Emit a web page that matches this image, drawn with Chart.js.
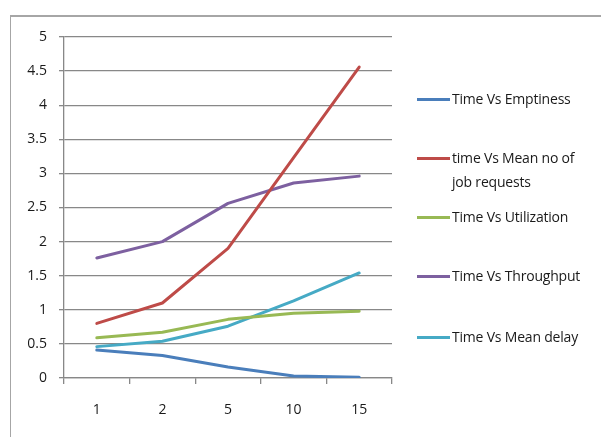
<!DOCTYPE html>
<html>
<head>
<meta charset="utf-8">
<script src="https://cdn.jsdelivr.net/npm/chart.js@4/dist/chart.umd.min.js"></script>
<style>
  html, body { margin: 0; padding: 0; background: #fff; }
  #wrap { position: relative; width: 601px; height: 437px; overflow: hidden; }
  #frame { position: absolute; left: 10px; top: 15px; width: 640px; height: 480px;
           border-left: 1px solid #a6a6a6; border-top: 2px solid #a6a6a6; }
  #chart { position: absolute; left: 0; top: 0; }
  .lg { position: absolute; left: 417px; font-family: "Open Sans", sans-serif;
        font-size: 14px; color: #1a1a1a; line-height: 24px; white-space: pre-line; letter-spacing: -0.2px; }
  .lg i { position: absolute; left: 0; top: 11px; width: 33px; height: 3px; }
  .lg span { display: block; margin-left: 35px; }
</style>
</head>
<body>
<div id="wrap">
  <div id="frame"></div>
  <canvas id="chart" width="601" height="437"></canvas>
  <div id="legend"></div>
</div>
<script>
// Time points on the x axis
const categories = ['1', '2', '5', '10', '15'];

// Measured series
const emptiness   = [0.41, 0.33, 0.16, 0.03, 0.01];
const meanJobs    = [0.80, 1.10, 1.90, 3.23, 4.56];
const utilization = [0.59, 0.67, 0.86, 0.95, 0.98];
const throughput  = [1.76, 2.00, 2.56, 2.86, 2.96];
const meanDelay   = [0.46, 0.54, 0.76, 1.13, 1.54];

const seriesNames = [
  'Time Vs Emptiness',
  'time Vs Mean no of\njob requests',
  'Time Vs Utilization',
  'Time Vs Throughput',
  'Time Vs Mean delay'
];
const seriesData = [emptiness, meanJobs, utilization, throughput, meanDelay];
const seriesColors = ['#4a7ebb', '#be4b48', '#98b954', '#7d60a0', '#46aac5'];

// Value axis range
const yMin = 0, yMax = 5, yStep = 0.5;

const tickFont = { family: '"Open Sans", sans-serif', size: 14 };

new Chart(document.getElementById('chart'), {
  type: 'line',
  data: {
    labels: categories,
    datasets: seriesData.map((d, i) => ({
      label: seriesNames[i],
      data: d,
      borderColor: seriesColors[i],
      backgroundColor: seriesColors[i],
      borderWidth: 3,
      pointRadius: 0,
      tension: 0,
      borderCapStyle: 'round',
      borderJoinStyle: 'round'
    }))
  },
  options: {
    responsive: false,
    animation: false,
    layout: { padding: { left: 0, right: 209, top: 37, bottom: 0 } },
    plugins: { legend: { display: false }, tooltip: { enabled: false } },
    scales: {
      x: {
        offset: true,
        grid: { offset: true, drawOnChartArea: false, drawTicks: true, tickLength: 6, color: '#888888', lineWidth: 1.3 },
        border: { color: '#888888', width: 1.3 },
        ticks: { color: '#1a1a1a', font: tickFont, padding: 18, maxRotation: 0 },
        afterFit: s => { s.height = 59; }
      },
      y: {
        min: yMin, max: yMax,
        grid: { color: '#888888', lineWidth: 1.3, tickLength: 5 },
        border: { color: '#888888', width: 1.3 },
        ticks: { stepSize: yStep, color: '#1a1a1a', font: tickFont, padding: 12,
                 callback: v => String(v) },
        afterFit: s => { s.width = 64; }
      }
    }
  }
});

// Legend on the right
const legendTops = [87, 146, 205, 264, 325];
const legend = document.getElementById('legend');
seriesNames.forEach((name, i) => {
  const item = document.createElement('div');
  item.className = 'lg';
  item.style.top = legendTops[i] + 'px';
  const sw = document.createElement('i');
  sw.style.background = seriesColors[i];
  const txt = document.createElement('span');
  txt.textContent = name;
  item.appendChild(sw);
  item.appendChild(txt);
  legend.appendChild(item);
});
</script>
</body>
</html>
